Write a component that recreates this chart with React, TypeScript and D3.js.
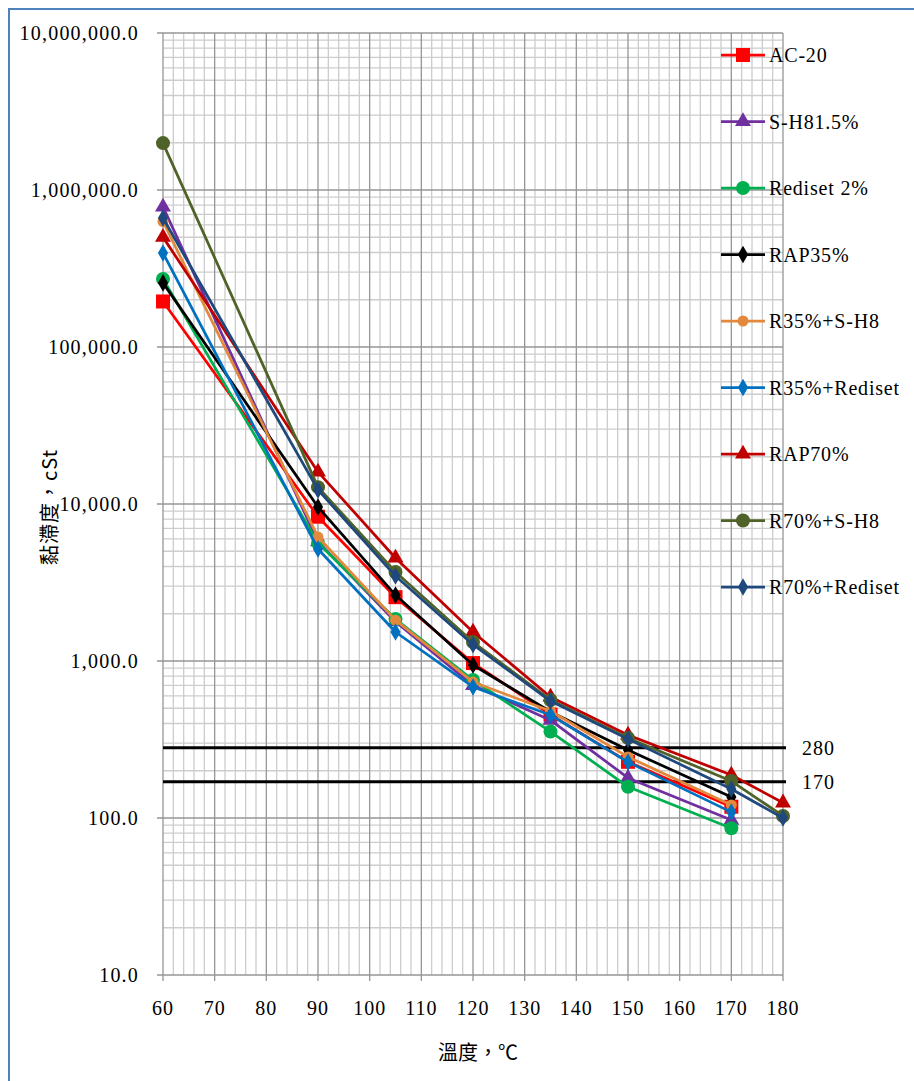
import React from 'react';
import * as d3 from 'd3';

// temperatures measured (°C)
const TEMPS = [60, 90, 105, 120, 135, 150, 170, 180];

const SERIES_NAMES = [
  'AC-20',
  'S-H81.5%',
  'Rediset 2%',
  'RAP35%',
  'R35%+S-H8',
  'R35%+Rediset',
  'RAP70%',
  'R70%+S-H8',
  'R70%+Rediset',
];

// viscosity, cSt (null = not measured)
const AC20 = [195000, 8300, 2550, 970, 455, 228, 118, null];
const SH8 = [780000, 5750, 1780, 700, 420, 180, 97, null];
const REDISET = [271000, 5650, 1850, 757, 355, 158, 86, null];
const RAP35 = [256000, 9570, 2630, 943, 475, 271, 136, null];
const R35_SH8 = [630000, 6160, 1820, 735, 480, 245, 121, null];
const R35_REDISET = [397000, 5170, 1530, 683, 453, 227, 109, null];
const RAP70 = [501000, 16000, 4530, 1530, 590, 338, 188, 125];
const R70_SH8 = [1990000, 12800, 3690, 1320, 565, 323, 172, 103];
const R70_REDISET = [663000, 12300, 3480, 1270, 556, 318, 153, 100];

const SERIES_VALUES = [AC20, SH8, REDISET, RAP35, R35_SH8, R35_REDISET, RAP70, R70_SH8, R70_REDISET];

const X_TICKS = [60, 70, 80, 90, 100, 110, 120, 130, 140, 150, 160, 170, 180];
const Y_TICKS = [10, 100, 1000, 10000, 100000, 1000000, 10000000];
const REF_LINES = [280, 170];

const COLORS = ['#ff0000', '#7030a0', '#00b050', '#000000', '#e3893e', '#0070c0', '#c00000', '#4f6228', '#1f497d'];
const SHAPES = ['square', 'triangle', 'circle', 'diamond', 'smallcircle', 'diamond', 'triangle', 'circle', 'diamond'];

const SERIF = '"Liberation Serif", "Times New Roman", "DejaVu Serif", serif';
const CJK = '"Noto Sans CJK TC", "Noto Sans CJK SC", sans-serif';

const W = 914;
const H = 1081;
const LEFT = 163;
const RIGHT = 783;
const TOP = 33;
const BOTTOM = 975;

const x = d3.scaleLinear().domain([60, 180]).range([LEFT, RIGHT]);
const y = d3.scaleLog().domain([10, 10000000]).range([BOTTOM, TOP]);

const fmt = d3.format(',.1f');

function marker(shape: string, color: string, cx: number, cy: number, key?: string | number) {
  if (shape === 'square') {
    return <rect key={key} x={cx - 7} y={cy - 7} width={14} height={14} fill={color} />;
  }
  if (shape === 'circle') {
    return <circle key={key} cx={cx} cy={cy} r={7} fill={color} />;
  }
  if (shape === 'smallcircle') {
    return <circle key={key} cx={cx} cy={cy} r={5.5} fill={color} />;
  }
  const sym = d3.symbol().type(shape === 'triangle' ? d3.symbolTriangle : d3.symbolDiamond).size(shape === 'triangle' ? 110 : 90);
  return <path key={key} d={sym() || ''} transform={`translate(${cx},${cy})`} fill={color} />;
}

export default function App() {
  const minorX = d3.range(60, 181, 2).filter((t) => t % 10 !== 0);
  const minorY: number[] = [];
  for (let d = 10; d < 10000000; d *= 10) {
    for (let k = 2; k <= 9; k++) minorY.push(d * k);
  }

  const line = d3
    .line<[number, number | null]>()
    .defined((d) => d[1] != null)
    .x((d) => x(d[0]))
    .y((d) => y(d[1] as number));

  return (
    <svg width={W} height={H} style={{ position: 'absolute', left: 0, top: 0, background: '#fff' }}>
      <rect x={0} y={0} width={W} height={H} fill="#fff" />
      <rect x={9} y={9} width={W + 20} height={H + 20} fill="none" stroke="#4f81bd" strokeWidth={2} />

      {/* grid */}
      <g>
        {minorY.map((v) => (
          <line key={'my' + v} x1={LEFT} x2={RIGHT} y1={y(v)} y2={y(v)} stroke="#cdcdcd" strokeWidth={1.3} />
        ))}
        {minorX.map((t) => (
          <line key={'mx' + t} x1={x(t)} x2={x(t)} y1={TOP} y2={BOTTOM} stroke="#cdcdcd" strokeWidth={1.3} />
        ))}
        {Y_TICKS.map((v) => (
          <line key={'gy' + v} x1={LEFT - 6} x2={RIGHT} y1={y(v)} y2={y(v)} stroke="#969696" strokeWidth={1.3} />
        ))}
        {X_TICKS.map((t) => (
          <line key={'gx' + t} x1={x(t)} x2={x(t)} y1={TOP} y2={BOTTOM + 6} stroke="#969696" strokeWidth={1.3} />
        ))}
      </g>

      {/* tick labels */}
      {Y_TICKS.map((v) => (
        <text key={'ty' + v} x={139} y={y(v)} dy="0.35em" textAnchor="end" fontFamily={SERIF} fontSize={20} letterSpacing={1.2} fill="#000">
          {fmt(v)}
        </text>
      ))}
      {X_TICKS.map((t) => (
        <text key={'tx' + t} x={x(t)} y={1008} dy="0.35em" textAnchor="middle" fontFamily={SERIF} fontSize={20} letterSpacing={1} fill="#000">
          {t}
        </text>
      ))}

      {/* axis titles */}
      <text x={478} y={1053} dy="0.35em" textAnchor="middle" fontFamily={CJK} fontSize={20} fill="#000">
        溫度，℃
      </text>
      <text
        transform={`translate(50,507) rotate(-90)`}
        dy="0.35em"
        textAnchor="middle"
        fontFamily={CJK}
        fontSize={20}
        letterSpacing={1}
        fill="#000"
      >
        黏滯度，cSt
      </text>

      {/* reference lines */}
      {REF_LINES.map((v) => (
        <g key={'ref' + v}>
          <line x1={LEFT} x2={786} y1={y(v)} y2={y(v)} stroke="#000" strokeWidth={3} />
          <text x={802} y={y(v)} dy="0.35em" fontFamily={SERIF} fontSize={20} letterSpacing={1} fill="#000">
            {v}
          </text>
        </g>
      ))}

      {/* series */}
      {SERIES_VALUES.map((vals, i) => {
        const pts = TEMPS.map((t, j) => [t, vals[j]] as [number, number | null]);
        return (
          <g key={'s' + i}>
            <path d={line(pts) || ''} fill="none" stroke={COLORS[i]} strokeWidth={2.75} strokeLinejoin="round" />
            {pts
              .filter((p) => p[1] != null)
              .map((p, j) => marker(SHAPES[i], COLORS[i], x(p[0]), y(p[1] as number), j))}
          </g>
        );
      })}

      {/* legend */}
      {SERIES_NAMES.map((name, i) => {
        const ly = 55 + i * 66.5;
        return (
          <g key={'lg' + i}>
            <line x1={721} x2={765} y1={ly} y2={ly} stroke={COLORS[i]} strokeWidth={2.75} />
            {marker(SHAPES[i], COLORS[i], 743, ly)}
            <text x={769} y={ly} dy="0.35em" fontFamily={SERIF} fontSize={20} letterSpacing={0.8} fill="#000">
              {name}
            </text>
          </g>
        );
      })}
    </svg>
  );
}
